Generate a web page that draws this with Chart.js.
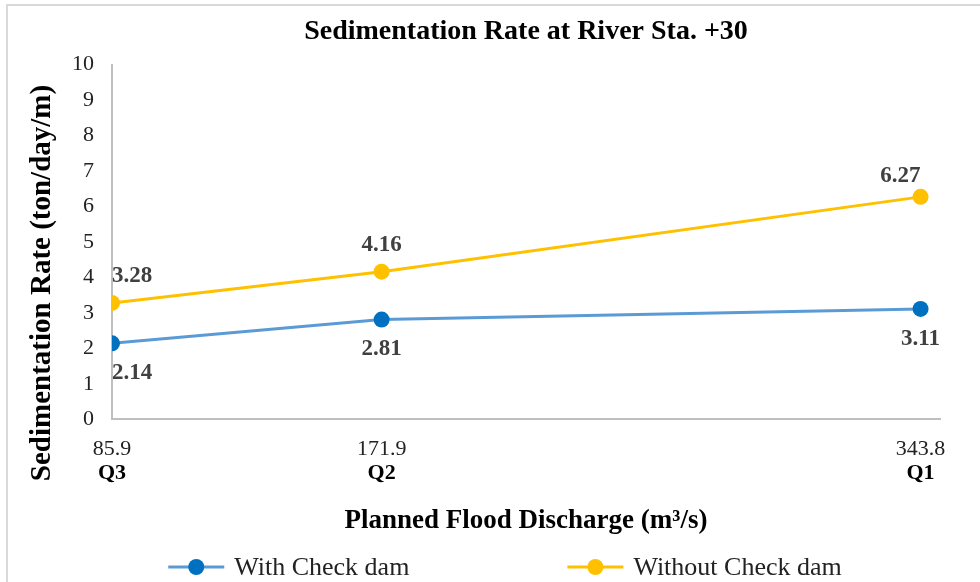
<!DOCTYPE html>
<html>
<head>
  <meta charset="utf-8">
  <title>Sedimentation Rate at River Sta. +30</title>
  <script src="https://cdn.jsdelivr.net/npm/chart.js"></script>
  <style>
    * { margin: 0; padding: 0; box-sizing: border-box; }
    html, body { width: 980px; height: 582px; background: #fff; overflow: hidden; }
    #frame { position: absolute; left: 6px; top: 4px; width: 1200px; height: 700px; border: 2px solid #d9d9d9; }
    #grafik { position: absolute; left: 0; top: 0; }
  </style>
</head>
<body>
  <div id="frame"></div>
  <canvas id="grafik" width="980" height="582"></canvas>
  <script>
    // data
    const discharge = [85.9, 171.9, 343.8];
    const floodLabels = ['Q3', 'Q2', 'Q1'];
    const withDam = [2.14, 2.81, 3.11];
    const withoutDam = [3.28, 4.16, 6.27];
    const seriesNames = ['With Check dam', 'Without Check dam'];

    const serif = '"Liberation Serif", "Times New Roman", serif';

    // label placement per series (not data)
    const labelStyle = [
      { side: 'below', align: ['left', 'center', 'center'] },
      { side: 'above', align: ['left', 'center', 'right'] }
    ];

    const pts = arr => arr.map((v, i) => ({ x: discharge[i], y: v }));

    const dataLabels = {
      id: 'dataLabels',
      afterDatasetsDraw(chart) {
        const ctx = chart.ctx;
        ctx.save();
        ctx.font = 'bold 23px ' + serif;
        ctx.fillStyle = '#404040';
        ctx.textBaseline = 'middle';
        chart.data.datasets.forEach((ds, di) => {
          const meta = chart.getDatasetMeta(di);
          const st = labelStyle[di];
          meta.data.forEach((el, i) => {
            const txt = ds.data[i].y.toFixed(2);
            ctx.textAlign = st.align[i];
            let dy = st.side === 'above' ? -27 : 30;
            if (st.align[i] === 'right') dy = -21;
            ctx.fillText(txt, el.x, el.y + dy);
          });
        });
        ctx.restore();
      }
    };

    const extras = {
      id: 'extras',
      afterDraw(chart) {
        const ctx = chart.ctx;
        ctx.save();
        // y axis title
        ctx.font = 'bold 29px ' + serif;
        ctx.fillStyle = '#000';
        ctx.textAlign = 'center';
        ctx.textBaseline = 'middle';
        ctx.translate(43, 283);
        ctx.rotate(-Math.PI / 2);
        ctx.fillText('Sedimentation Rate (ton/day/m)', 0, 0);
        ctx.restore();

        // legend: line with marker, then text
        ctx.save();
        ctx.font = '26px ' + serif;
        ctx.textBaseline = 'middle';
        ctx.textAlign = 'left';
        const y = 567;
        const gap = 158;
        const widths = seriesNames.map(n => 56 + 10 + ctx.measureText(n).width);
        const total = widths[0] + gap + widths[1];
        let x = 505 - total / 2;
        chart.data.datasets.forEach((ds, i) => {
          ctx.strokeStyle = ds.borderColor;
          ctx.lineWidth = 3;
          ctx.beginPath();
          ctx.moveTo(x, y);
          ctx.lineTo(x + 56, y);
          ctx.stroke();
          ctx.fillStyle = ds.pointBackgroundColor;
          ctx.beginPath();
          ctx.arc(x + 28, y, 8, 0, Math.PI * 2);
          ctx.fill();
          ctx.fillStyle = '#222';
          ctx.fillText(seriesNames[i], x + 66, y + 1);
          x += widths[i] + gap;
        });
        ctx.restore();
      }
    };

    const setTicks = scale => { scale.ticks = discharge.map(v => ({ value: v })); };

    const ctx = document.getElementById('grafik').getContext('2d');
    const chart = new Chart(ctx, {
      type: 'scatter',
      data: {
        datasets: [{
          label: seriesNames[0],
          data: pts(withDam),
          showLine: true,
          borderColor: '#5B9BD5',
          borderWidth: 3,
          pointBackgroundColor: '#0070C0',
          pointBorderColor: '#0070C0',
          pointRadius: 8,
          pointBorderWidth: 0
        }, {
          label: seriesNames[1],
          data: pts(withoutDam),
          showLine: true,
          borderColor: '#FFC000',
          borderWidth: 3,
          pointBackgroundColor: '#FFC000',
          pointBorderColor: '#FFC000',
          pointRadius: 8,
          pointBorderWidth: 0
        }]
      },
      options: {
        responsive: false,
        animation: false,
        layout: { padding: { left: 0, right: 40, top: 0, bottom: 45 } },
        plugins: {
          legend: { display: false },
          tooltip: { enabled: false },
          title: {
            display: true,
            fullSize: false,
            text: 'Sedimentation Rate at River Sta. +30',
            color: '#000',
            font: { family: serif, size: 28, weight: 'bold' },
            padding: { top: 15, bottom: 16 }
          }
        },
        scales: {
          x: {
            type: 'linear',
            position: 'bottom',
            weight: 0,
            min: 85.9,
            max: 350,
            afterBuildTicks: setTicks,
            afterFit: s => { s.height = 38; },
            grid: { display: false, drawTicks: false },
            border: { color: '#BFBFBF', width: 2 },
            ticks: {
              autoSkip: false,
              maxRotation: 0,
              padding: 17,
              color: '#222',
              font: { family: serif, size: 22 },
              callback: v => String(v)
            }
          },
          xq: {
            type: 'linear',
            position: 'bottom',
            weight: 1,
            min: 85.9,
            max: 350,
            afterBuildTicks: setTicks,
            grid: { display: false, drawTicks: false },
            border: { display: false },
            ticks: {
              autoSkip: false,
              maxRotation: 0,
              padding: 3,
              color: '#000',
              font: { family: serif, size: 22, weight: 'bold' },
              callback: v => floodLabels[discharge.indexOf(v)]
            },
            title: {
              display: true,
              text: 'Planned Flood Discharge (m\u00B3/s)',
              color: '#000',
              font: { family: serif, size: 27, weight: 'bold' },
              padding: { top: 15, bottom: 0 }
            }
          },
          y: {
            min: 0,
            max: 10,
            afterFit: s => { s.width = 112; },
            grid: { display: false, drawTicks: false },
            border: { color: '#BFBFBF', width: 2 },
            ticks: {
              stepSize: 1,
              padding: 18,
              color: '#222',
              font: { family: serif, size: 22 }
            }
          }
        }
      },
      plugins: [dataLabels, extras]
    });
  </script>
</body>
</html>
